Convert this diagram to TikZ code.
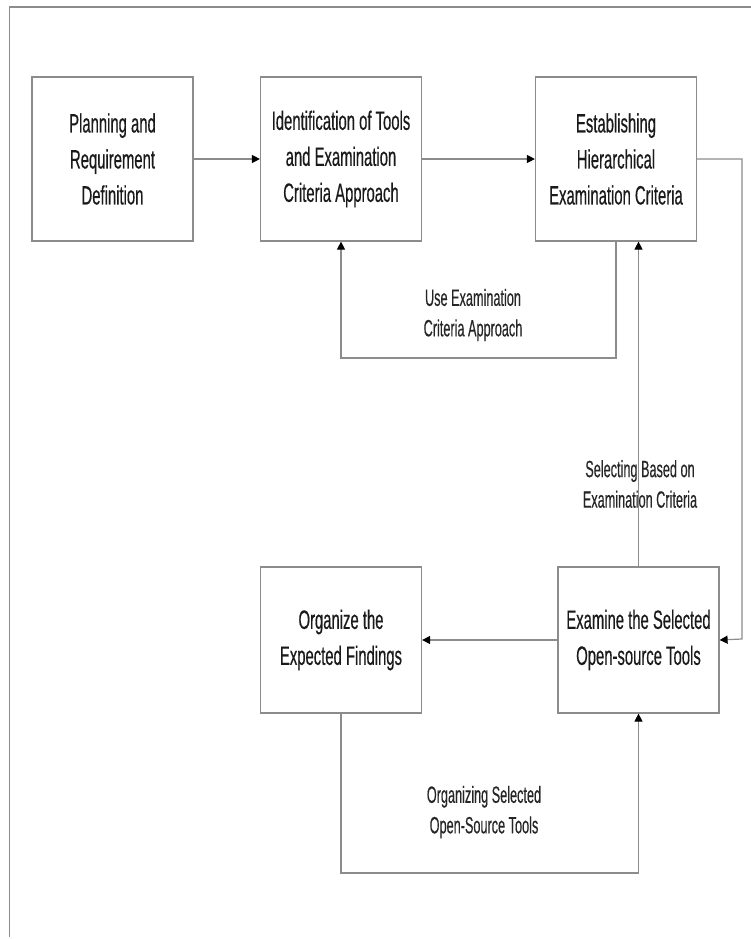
\documentclass[tikz,border=0pt]{standalone}
\usepackage{fontspec}
\setmainfont{Liberation Sans}
\newfontfamily\boxfnt{Liberation Sans}[FakeStretch=0.56,FakeBold=0.4]
\newfontfamily\lblfnt{Liberation Sans}[FakeStretch=0.54,FakeBold=0.3]
\usetikzlibrary{arrows.meta}
\definecolor{linegray}{HTML}{8C8C8C}
\definecolor{txt}{HTML}{1A1A1A}
\definecolor{lbltxt}{HTML}{262626}
\tikzset{
  stepbox/.style={draw=linegray, line width=1.2pt, minimum width=161pt, inner sep=0pt, align=center, text=txt, font=\boxfnt\fontsize{26.5}{36}\selectfont},
  tallbox/.style={stepbox, minimum height=164pt},
  lowbox/.style={stepbox, minimum height=146pt},
  conn/.style={draw=linegray, line width=1.2pt, -{Triangle[length=8pt,width=8pt,color=black]}},
  lbl/.style={align=center, text=lbltxt, inner sep=0pt, font=\lblfnt\fontsize{23.5}{30.5}\selectfont},
  frameline/.style={draw=linegray, line width=1.2pt}
}
\begin{document}
\begin{tikzpicture}[x=1pt,y=-1pt]
\useasboundingbox (0,0) rectangle (751,939);
\draw[frameline] (751,7) -- (9.5,7) -- (9.5,937);
\node[tallbox] (b1) at (112.5,159) {Planning and\\Requirement\\Definition};
\node[tallbox] (b2) at (341,159) {Identification of Tools\\and Examination\\Criteria Approach};
\node[tallbox] (b3) at (616,159) {Establishing\\Hierarchical\\Examination Criteria};
\node[lowbox] (b4) at (341,640) {Organize the\\Expected Findings};
\node[lowbox] (b5) at (638.5,640) {Examine the Selected\\Open-source Tools};
\coordinate (c1) at (742,159);
\coordinate (c2) at (742,639);
\coordinate (c3) at (616,358);
\coordinate (c4) at (341,358);
\coordinate (c5) at (341,873);
\coordinate (c6) at (638.5,873);
\draw[conn] (b1.east) -- (b2.west);
\draw[conn] (b2.east) -- (b3.west);
\draw[conn] (b3.east) -- (c1) -- (c2) -- (b5.east);
\draw[conn] (b3.south) -- (c3) -- (c4) -- (b2.south);
\draw[conn] (b5.north) -- (b5.north |- b3.south);
\draw[conn] (b5.west) -- (b4.east);
\draw[conn] (b4.south) -- (c5) -- (c6) -- (b5.south);
\node[lbl] (l1) at (473,315) {Use Examination\\Criteria Approach};
\node[lbl] (l2) at (640,484) {Selecting Based on\\Examination Criteria};
\node[lbl] (l3) at (484,812) {Organizing Selected\\Open-Source Tools};
\end{tikzpicture}
\end{document}
